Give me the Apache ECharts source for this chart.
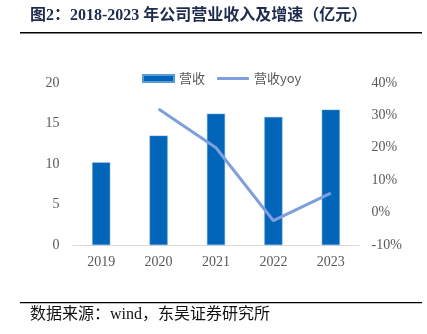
<!DOCTYPE html>
<html>
<head>
<meta charset="utf-8">
<script src="https://cdn.jsdelivr.net/npm/echarts@6/dist/echarts.min.js"></script>
<style>
  html, body { margin: 0; padding: 0; background: #fff; }
  #chart { width: 427px; height: 334px; }
</style>
</head>
<body>
<div id="chart"></div>
<script>
// Revenue (100 million CNY) and year-on-year growth, 2019-2023
const years = ['2019', '2020', '2021', '2022', '2023'];
const revenue = [10.2, 13.5, 16.2, 15.8, 16.7];
const revenueYoy = [null, 32, 20, -2.5, 6];

const leftTicks = { min: 0, max: 20, interval: 5 };
const rightTicks = { min: -10, max: 40, interval: 10 };

const titleText = '图2：2018-2023 年公司营业收入及增速（亿元）';
const sourceText = '数据来源：wind，东吴证券研究所';

const serif = '"Liberation Serif", "Noto Sans CJK SC", serif';
const labelColor = '#595959';
const barColor = '#0166B9';
const lineColor = '#7F9FDC';

const chart = echarts.init(document.getElementById('chart'), null, { renderer: 'canvas' });

chart.setOption({
  animation: false,
  backgroundColor: '#ffffff',
  grid: { left: 72.5, right: 67.5, top: 83, bottom: 89, containLabel: false },
  legend: [
    {
      data: ['营收'],
      left: 142, top: 72, padding: 0,
      itemWidth: 31, itemHeight: 7,
      icon: 'rect',
      textStyle: { color: labelColor, fontSize: 13, fontFamily: '"Noto Sans CJK SC", sans-serif' }
    },
    {
      data: [{ name: '营收yoy', icon: 'roundRect' }],
      left: 217, top: 72, padding: 0,
      itemWidth: 32, itemHeight: 3,
      textStyle: { color: labelColor, fontSize: 13, fontFamily: '"Noto Sans CJK SC", sans-serif' }
    }
  ],
  xAxis: {
    type: 'category',
    data: years,
    axisLine: { lineStyle: { color: '#D9D9D9', width: 1 } },
    axisTick: { show: false },
    axisLabel: { color: labelColor, fontSize: 14, fontFamily: serif, margin: 10 }
  },
  yAxis: [
    {
      type: 'value',
      min: leftTicks.min, max: leftTicks.max, interval: leftTicks.interval,
      splitLine: { show: false },
      axisLine: { show: false },
      axisTick: { show: false },
      axisLabel: { color: labelColor, fontSize: 14, fontFamily: serif, margin: 13 }
    },
    {
      type: 'value',
      min: rightTicks.min, max: rightTicks.max, interval: rightTicks.interval,
      splitLine: { show: false },
      axisLine: { show: false },
      axisTick: { show: false },
      axisLabel: { color: labelColor, fontSize: 14, fontFamily: serif, margin: 12, formatter: '{value}%' }
    }
  ],
  series: [
    {
      name: '营收',
      type: 'bar',
      data: revenue,
      barWidth: 18,
      itemStyle: { color: barColor, borderColor: '#5B9BD5', borderWidth: 0.5 },
      yAxisIndex: 0
    },
    {
      name: '营收yoy',
      type: 'line',
      data: revenueYoy,
      yAxisIndex: 1,
      symbol: 'none',
      connectNulls: false,
      lineStyle: { color: lineColor, width: 3 },
      itemStyle: { color: lineColor }
    }
  ],
  graphic: [
    {
      type: 'text', left: 30, top: 8,
      style: { text: titleText, fill: '#1F2B4D', font: 'bold 16px ' + serif }
    },
    {
      type: 'rect', shape: { x: 20, y: 32, width: 402, height: 1.5 },
      style: { fill: '#000' }
    },
    {
      type: 'rect', shape: { x: 20, y: 302, width: 402, height: 1.2 },
      style: { fill: '#000' }
    },
    {
      type: 'text', left: 30, top: 307,
      style: { text: sourceText, fill: '#111', font: '16px ' + serif }
    }
  ]
});
</script>
</body>
</html>
